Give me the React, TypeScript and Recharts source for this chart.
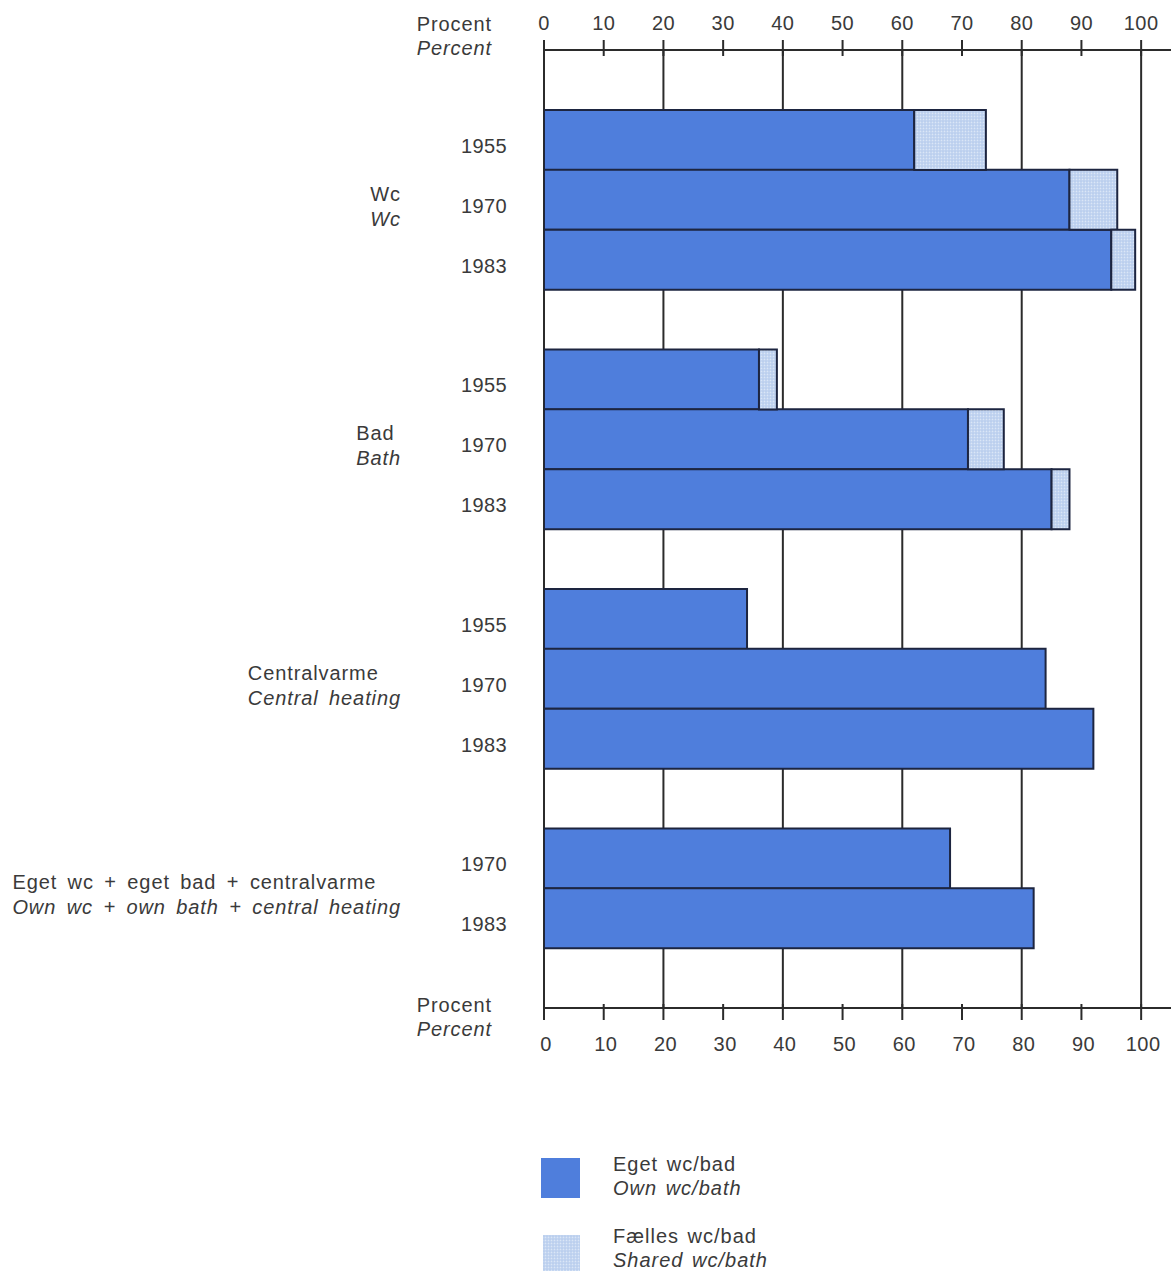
import React from "react";
import { BarChart, Bar, XAxis, YAxis, CartesianGrid } from "recharts";

// group labels (Danish / English) and the years shown for each group
const groupsDa = ["Wc", "Bad", "Centralvarme", "Eget wc + eget bad + centralvarme"];
const groupsEn = ["Wc", "Bath", "Central heating", "Own wc + own bath + central heating"];
const groupYears = [
  [1955, 1970, 1983],
  [1955, 1970, 1983],
  [1955, 1970, 1983],
  [1970, 1983],
];
// percent of dwellings
const ownValues = [
  [62, 88, 95],
  [36, 71, 85],
  [34, 84, 92],
  [68, 82],
];
const sharedValues: (number | null)[][] = [
  [12, 8, 4],
  [3, 6, 3],
  [null, null, null],
  [null, null],
];
const xTicks = [0, 10, 20, 30, 40, 50, 60, 70, 80, 90, 100];
const gridValues = [0, 20, 40, 60, 80, 100];
const legendDa = ["Eget wc/bad", "Fælles wc/bad"];
const legendEn = ["Own wc/bath", "Shared wc/bath"];

const OWN = "#4f7edc";
const SHARED = "#c4d6f1";
const INK = "#3a3a3a";
const LINE = "#2b2b2b";
const FONT = "'Liberation Sans', Arial, sans-serif";

const W = 1171;
const H = 1272;
const MARGIN = { top: 20, right: 0, bottom: 234, left: 444 };
const AXIS_H = 30;

type Row = { id: string; year?: number; own?: number; shared?: number | null; group?: number; first?: boolean };

// one spacer row before each group and one after the last
const rows: Row[] = [];
groupYears.forEach((years, g) => {
  rows.push({ id: `gap${g}` });
  years.forEach((y, i) =>
    rows.push({ id: `g${g}-${y}`, year: y, own: ownValues[g][i], shared: sharedValues[g][i], group: g, first: i === 0 })
  );
});
rows.push({ id: "gapEnd" });

const rowH = (H - MARGIN.top - MARGIN.bottom - 2 * AXIS_H) / rows.length;
const rowById: Record<string, Row> = {};
rows.forEach((r) => (rowById[r.id] = r));

const num = { fontFamily: FONT, fontSize: 20, fill: INK, letterSpacing: 0.4 } as const;
const word = { fontFamily: FONT, fontSize: 20, fill: INK, letterSpacing: 0.9, wordSpacing: 3 } as const;

const TopTick = (props: any) => {
  const { x, y, payload } = props;
  return (
    <g>
      <line x1={x} x2={x} y1={y - 10} y2={y + 6} stroke={LINE} strokeWidth={2} />
      <text x={x} y={y - 27} textAnchor="middle" dominantBaseline="central" {...num}>
        {payload.value}
      </text>
      {payload.value === 0 && (
        <>
          <text x={x - 52} y={y - 26} textAnchor="end" dominantBaseline="central" {...word}>Procent</text>
          <text x={x - 52} y={y - 2} textAnchor="end" dominantBaseline="central" {...word} fontStyle="italic">Percent</text>
        </>
      )}
    </g>
  );
};

const BottomTick = (props: any) => {
  const { x, y, payload } = props;
  return (
    <g>
      <line x1={x} x2={x} y1={y - 4} y2={y + 12} stroke={LINE} strokeWidth={2} />
      <text x={x + 2} y={y + 36} textAnchor="middle" dominantBaseline="central" {...num}>
        {payload.value}
      </text>
      {payload.value === 0 && (
        <>
          <text x={x - 52} y={y - 3} textAnchor="end" dominantBaseline="central" {...word}>Procent</text>
          <text x={x - 52} y={y + 21} textAnchor="end" dominantBaseline="central" {...word} fontStyle="italic">Percent</text>
        </>
      )}
    </g>
  );
};

const YearTick = (props: any) => {
  const { x, y, payload } = props;
  const row = rowById[payload.value];
  if (!row || row.year === undefined) return <g />;
  const g = row.group as number;
  const mid = y + ((groupYears[g].length - 1) / 2) * rowH;
  return (
    <g>
      <text x={x - 37} y={y + 6} textAnchor="end" dominantBaseline="central" {...num}>
        {row.year}
      </text>
      {row.first && (
        // block is right-aligned against the year column, lines inside it left-aligned
        <foreignObject x={0} y={mid - 18} width={x - 143} height={56}>
          <div style={{ textAlign: "right", fontFamily: FONT, fontSize: 20, color: INK, letterSpacing: 0.9, wordSpacing: 4, lineHeight: "25px" }}>
            <div style={{ display: "inline-block", textAlign: "left", whiteSpace: "nowrap" }}>
              <div>{groupsDa[g]}</div>
              <div style={{ fontStyle: "italic" }}>{groupsEn[g]}</div>
            </div>
          </div>
        </foreignObject>
      )}
    </g>
  );
};

const Swatch = ({ shared }: { shared: boolean }) => (
  <svg width={shared ? 37 : 39} height={shared ? 36 : 40} style={{ display: "block" }}>
    <defs>
      <pattern id="legendDots" width={3} height={3} patternUnits="userSpaceOnUse">
        <rect width={3} height={3} fill={SHARED} />
        <circle cx={1} cy={1} r={0.6} fill="#a3bde6" />
        <circle cx={2.5} cy={2.2} r={0.5} fill="#e8effa" />
      </pattern>
    </defs>
    <rect x={0} y={0} width="100%" height="100%" fill={shared ? "url(#legendDots)" : OWN} />
  </svg>
);

const legendPos = [
  { swatchLeft: 541, swatchTop: 1158, textTop: 1152 },
  { swatchLeft: 543, swatchTop: 1235, textTop: 1224 },
];

const LegendBox = () => (
  <>
    {legendDa.map((da, i) => (
      <React.Fragment key={da}>
        <div style={{ position: "absolute", left: legendPos[i].swatchLeft, top: legendPos[i].swatchTop }}>
          <Swatch shared={i === 1} />
        </div>
        <div
          style={{
            position: "absolute",
            left: 613,
            top: legendPos[i].textTop,
            fontFamily: FONT,
            fontSize: 20,
            color: INK,
            letterSpacing: 1,
            wordSpacing: 2,
            lineHeight: "24px",
            whiteSpace: "nowrap",
          }}
        >
          <div>{da}</div>
          <div style={{ fontStyle: "italic" }}>{legendEn[i]}</div>
        </div>
      </React.Fragment>
    ))}
  </>
);

export default function App() {
  return (
    <div style={{ position: "absolute", left: 0, top: 0, width: W, height: H, background: "#fff", overflow: "hidden" }}>
      <BarChart
        width={W}
        height={H}
        data={rows}
        layout="vertical"
        margin={MARGIN}
        barCategoryGap={0}
        barGap={0}
      >
        <defs>
          <pattern id="sharedDots" width={3} height={3} patternUnits="userSpaceOnUse">
            <rect width={3} height={3} fill={SHARED} />
            <circle cx={1} cy={1} r={0.6} fill="#a3bde6" />
            <circle cx={2.5} cy={2.2} r={0.5} fill="#e8effa" />
          </pattern>
        </defs>
        <CartesianGrid
          xAxisId="top"
          horizontal={false}
          verticalValues={gridValues}
          stroke={LINE}
          strokeWidth={2}
        />
        <XAxis
          xAxisId="top"
          orientation="top"
          type="number"
          domain={[0, 105]}
          allowDataOverflow
          ticks={xTicks}
          height={AXIS_H}
          tickSize={0}
          tickMargin={0}
          tickLine={false}
          axisLine={{ stroke: LINE, strokeWidth: 2 }}
          tick={<TopTick />}
          interval={0}
        />
        <XAxis
          xAxisId="bottom"
          orientation="bottom"
          type="number"
          domain={[0, 105]}
          allowDataOverflow
          ticks={xTicks}
          height={AXIS_H}
          tickSize={0}
          tickMargin={0}
          tickLine={false}
          axisLine={{ stroke: LINE, strokeWidth: 2 }}
          tick={<BottomTick />}
          interval={0}
        />
        <YAxis
          type="category"
          dataKey="id"
          width={100}
          axisLine={false}
          tickLine={false}
          tickSize={0}
          tickMargin={0}
          interval={0}
          tick={<YearTick />}
        />
        <Bar
          xAxisId="top"
          dataKey="own"
          stackId="a"
          fill={OWN}
          stroke="#1d2540"
          strokeWidth={2}
          isAnimationActive={false}
        />
        <Bar
          xAxisId="top"
          dataKey="shared"
          stackId="a"
          fill="url(#sharedDots)"
          stroke="#1d2540"
          strokeWidth={2}
          isAnimationActive={false}
        />
      </BarChart>
      <LegendBox />
    </div>
  );
}
